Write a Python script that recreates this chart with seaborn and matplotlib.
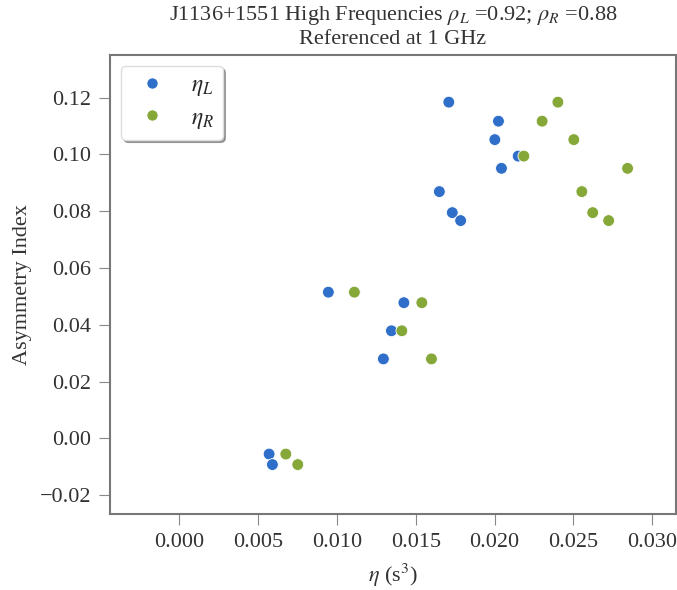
import matplotlib
matplotlib.use("Agg")
import matplotlib.pyplot as plt
import seaborn as sns
import pandas as pd

asym = [0.1184, 0.1117, 0.1052, 0.0994, 0.0951, 0.0869, 0.0795, 0.0767,
        0.0515, 0.0478, 0.0379, 0.0280, -0.0055, -0.0092]
eta_L = [0.01709, 0.02024, 0.02001, 0.02149, 0.02043, 0.01649, 0.01731, 0.01784,
         0.00945, 0.01424, 0.01345, 0.01294, 0.00569, 0.00590]
eta_R = [0.02401, 0.02301, 0.02502, 0.02185, 0.02843, 0.02553, 0.02622, 0.02723,
         0.01110, 0.01538, 0.01411, 0.01599, 0.00675, 0.00751]
series = [r"$\eta_L$", r"$\eta_R$"]
colors = ["#2f6fca", "#85a839"]

df = pd.concat([
    pd.DataFrame({"eta": eta_L, "asym": asym, "series": series[0]}),
    pd.DataFrame({"eta": eta_R, "asym": asym, "series": series[1]}),
])

sns.set_theme(style="ticks")
plt.rcParams["font.family"] = ["Liberation Serif", "DejaVu Serif"]
plt.rcParams["mathtext.fontset"] = "stix"

FS = 16
fig = plt.figure(figsize=(6.77, 5.90), dpi=100)
ax = fig.add_axes([0.163, 0.1288, 0.835, 0.778])
sns.scatterplot(data=df, x="eta", y="asym", hue="series", palette=colors,
                s=72, edgecolor="white", linewidth=0.6, ax=ax)

ax.set_xlim(-0.00438, 0.03148)
ax.set_ylim(-0.0266, 0.135)
ax.set_xticks([0.000, 0.005, 0.010, 0.015, 0.020, 0.025, 0.030])
ax.set_xticklabels(["0.000", "0.005", "0.010", "0.015", "0.020", "0.025", "0.030"])
ax.set_yticks([-0.02, 0.00, 0.02, 0.04, 0.06, 0.08, 0.10, 0.12])
ax.set_yticklabels(["\u22120.02", "0.00", "0.02", "0.04", "0.06", "0.08", "0.10", "0.12"])
ax.tick_params(axis="both", labelsize=FS, colors="#333333", length=8, width=0.8,
               color="#888888", pad=6)
for sp in ax.spines.values():
    sp.set_color("#777777")
    sp.set_linewidth(1.5)

ax.set_xlabel(r"$\eta$ (s$^3$)", fontsize=FS, color="#333333", labelpad=7)
ax.set_ylabel("Asymmetry Index", fontsize=FS, color="#333333", labelpad=5)
ax.set_title("J1136+1551 High Frequencies $\\rho_L$ =0.92; $\\rho_R$ =0.88\nReferenced at 1 GHz",
             fontsize=FS, color="#333333", linespacing=1.2, pad=8)

leg = ax.legend(title=None, loc="upper left", fontsize=17, frameon=True, shadow=True,
                fancybox=True, markerscale=0.95, handletextpad=0.72, handlelength=1.85,
                borderpad=0.38, labelspacing=0.38, borderaxespad=0.45)
leg.get_frame().set_edgecolor("#dddddd")

fig.savefig("out.png", dpi=100)
